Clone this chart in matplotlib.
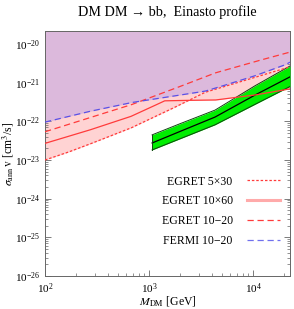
import numpy as np
import matplotlib
matplotlib.use("Agg")
import matplotlib.pyplot as plt
from matplotlib.lines import Line2D

plt.rcParams['font.family'] = ['Liberation Serif', 'DejaVu Serif']
plt.rcParams['mathtext.fontset'] = 'stix'

# --- data (log10 values) ---
fermi_logM = [2.0, 2.4, 2.82, 3.2, 3.54, 3.64, 4.0, 4.31, 4.356]
fermi_logsv = [-22.02, -21.76, -21.52, -21.36, -21.22, -21.14, -20.84, -20.54, -20.47]

eg1020_logM = [2.0, 2.4, 2.82, 3.2, 3.635, 4.0, 4.356]
eg1020_logsv = [-22.27, -21.93, -21.58, -21.2, -20.75, -20.47, -20.21]

eg1060_logM = [2.0, 2.4, 2.82, 3.0, 3.15, 3.3, 3.635, 4.02, 4.356]
eg1060_logsv = [-22.57, -22.25, -21.88, -21.66, -21.47, -21.46, -21.45, -21.32, -21.16]

eg530_logM = [2.0, 2.2, 2.4, 2.82, 3.2, 3.54, 4.0, 4.356]
eg530_logsv = [-23.0, -22.82, -22.62, -22.18, -21.7, -21.25, -20.88, -20.59]

band_logM = [3.03, 3.3, 3.635, 4.02, 4.356]
band_center = [-22.56, -22.26, -21.89, -21.32, -20.85]
band_up = [-22.35, -22.06, -21.71, -21.08, -20.57]
band_lo = [-22.74, -22.45, -22.09, -21.56, -21.10]

legend_labels = ["EGRET 5\u00d730", "EGRET 10\u00d760", "EGRET 10\u221220", "FERMI 10\u221220"]

fig = plt.figure(figsize=(2.94, 3.09), dpi=100)
ax = fig.add_axes([0.1531, 0.1068, 0.8333, 0.7929])
ax.set_xscale('log')
ax.set_yscale('log')
xmin, xmax = 100, 10**4.356
ymin, ymax = 1e-26, 10**-19.664

grid = np.linspace(2.0, np.log10(xmax), 400)
def interp(lx, ly):
    return 10**np.interp(grid, lx, ly)

M = 10**grid
fermi = interp(fermi_logM, fermi_logsv)
e1020 = interp(eg1020_logM, eg1020_logsv)
e1060 = interp(eg1060_logM, eg1060_logsv)
e530 = interp(eg530_logM, eg530_logsv)
egmin = np.minimum(np.minimum(e1020, e1060), e530)

ax.fill_between(M, egmin, ymax, color='#ffd3d3', lw=0, zorder=1)
ax.fill_between(M, fermi, ymax, color='#dcb9dc', lw=0, zorder=2)

# green band
bM = 10**np.array(band_logM)
ax.fill_between(bM, 10**np.array(band_lo), 10**np.array(band_up), color='#00ee00', lw=0, zorder=3)
ax.plot(bM, 10**np.array(band_lo), color='#114411', lw=0.7, zorder=4)
ax.plot(bM, 10**np.array(band_up), color='#114411', lw=0.7, zorder=4)
ax.plot(bM, 10**np.array(band_center), color='black', lw=0.9, zorder=4)
ax.plot([bM[0], bM[0]], [10**band_lo[0], 10**band_up[0]], color='#114411', lw=0.7, zorder=4)

red = '#ff3b3b'
ax.plot(M, e530, color=red, lw=0.9, ls=(0, (2, 1.5)), zorder=5)
ax.plot(M, e1060, color=red, lw=0.9, ls='-', zorder=5)
ax.plot(M, e1020, color=red, lw=0.9, ls=(0, (5, 3)), zorder=5)
ax.plot(M, fermi, color='#5a50e6', lw=0.9, ls=(0, (5, 3)), zorder=5)

ax.set_xlim(xmin, xmax)
ax.set_ylim(ymin, ymax)

handles = [Line2D([], [], color=red, lw=0.9, ls=(0, (2, 1.5))),
           Line2D([], [], color='#ffaaaa', lw=2.2),
           Line2D([], [], color=red, lw=0.9, ls=(0, (5, 3))),
           Line2D([], [], color='#7070ee', lw=0.9, ls=(0, (5, 3)))]
ax.legend(handles, legend_labels, loc='upper right', bbox_to_anchor=(0.959, 0.41),
          frameon=False, markerfirst=False, fontsize=8.5, handlelength=2.8,
          labelspacing=0.66, handletextpad=1.2, borderpad=0, borderaxespad=0)

ax.set_title("DM DM \u2192 bb,  Einasto profile", fontsize=10.2, pad=10.5)
ax.set_xlabel(r"$M_{\rm DM}$ [GeV]", fontsize=8.5)
ax.set_ylabel(r"$\sigma_{\rm ann}\,{\rm v}$ [cm$^3$/s]", fontsize=8.5)
ax.xaxis.set_label_coords(0.5, -0.074)
ax.yaxis.set_label_coords(-0.118, 0.5)

ax.tick_params(which='both', direction='in', top=True, right=True, labelsize=8,
               color='#666666')
ax.tick_params(which='major', length=4, width=0.6)
ax.tick_params(which='minor', length=2, width=0.5)
ax.tick_params(axis='x', pad=4)
ax.yaxis.set_major_locator(matplotlib.ticker.LogLocator(base=10, numticks=10))
ax.yaxis.set_minor_locator(matplotlib.ticker.LogLocator(base=10, subs=np.arange(2, 10), numticks=20))
ax.xaxis.set_minor_locator(matplotlib.ticker.LogLocator(base=10, subs=np.arange(2, 10), numticks=20))
ax.yaxis.set_minor_formatter(matplotlib.ticker.NullFormatter())
ax.xaxis.set_minor_formatter(matplotlib.ticker.NullFormatter())
for s in ax.spines.values():
    s.set_color('#666666')
    s.set_linewidth(0.7)

fig.savefig("out.png", dpi=100)
